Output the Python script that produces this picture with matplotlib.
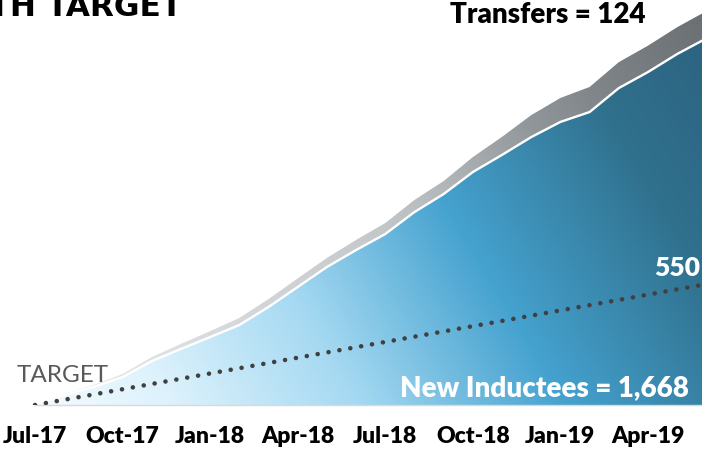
import numpy as np
import matplotlib.pyplot as plt
from matplotlib.colors import LinearSegmentedColormap
from matplotlib.patches import Polygon

# monthly cumulative totals, Jul-17 .. Jun-19
months = ['Jul-17', 'Aug-17', 'Sep-17', 'Oct-17', 'Nov-17', 'Dec-17',
          'Jan-18', 'Feb-18', 'Mar-18', 'Apr-18', 'May-18', 'Jun-18',
          'Jul-18', 'Aug-18', 'Sep-18', 'Oct-18', 'Nov-18', 'Dec-18',
          'Jan-19', 'Feb-19', 'Mar-19', 'Apr-19', 'May-19', 'Jun-19']
inductees = [0, 45, 82, 127, 200, 255, 309, 364, 446, 537, 628, 705,
             778, 878, 960, 1060, 1138, 1219, 1288, 1333, 1442, 1515, 1597, 1668]
transfers = [0, 5, 9, 14, 18, 23, 27, 32, 36, 39, 41, 46,
             50, 55, 59, 68, 82, 100, 109, 114, 118, 120, 122, 124]
target = [0, 550]
tick_labels = ['Jul-17', 'Oct-17', 'Jan-18', 'Apr-18',
               'Jul-18', 'Oct-18', 'Jan-19', 'Apr-19']

x = np.arange(len(months))
ind = np.array(inductees, dtype=float)
tot = ind + np.array(transfers)

fig = plt.figure(figsize=(7.02, 4.51), dpi=100)
ax = fig.add_axes([0, 46 / 451, 1, 405 / 451])
xmin, xmax = -35 / 29.19, 667 / 29.19
ymin, ymax = 0, 405 * 4.55
ax.set_xlim(xmin, xmax)
ax.set_ylim(ymin, ymax)

# diagonal gradient (light bottom-left -> dark top-right)
gx = np.linspace(xmin, xmax, 500)
gy = np.linspace(ymin, ymax, 300)
GX, GY = np.meshgrid(gx, gy)
m = (GX * 29.19 + 0.6 * GY / 4.55) / 900
m = np.clip(m, 0, 1)

blue_cmap = LinearSegmentedColormap.from_list('b', [
    (0.0, '#f4fbff'), (0.15, '#ddf2fc'), (0.36, '#a5d9f2'),
    (0.59, '#45a2cf'), (0.83, '#30718e'), (1.0, '#2c6380')])
gray_cmap = LinearSegmentedColormap.from_list('g', [
    (0.0, '#eceeef'), (0.16, '#dfe2e4'), (0.5, '#c4c8cb'),
    (0.6, '#b2b7ba'), (0.74, '#90969a'), (0.83, '#80868a'), (1.0, '#6a7074')])

gray_poly = Polygon(np.column_stack([np.r_[x, x[::-1]], np.r_[tot, ind[::-1]]]),
                    closed=True, facecolor='none', edgecolor='none')
blue_poly = Polygon(np.column_stack([np.r_[x, x[::-1]], np.r_[ind, np.zeros_like(ind)]]),
                    closed=True, facecolor='none', edgecolor='none')
ax.add_patch(gray_poly)
ax.add_patch(blue_poly)

im1 = ax.imshow(m, extent=(xmin, xmax, ymin, ymax), origin='lower',
                aspect='auto', cmap=gray_cmap, vmin=0, vmax=1, zorder=1)
im1.set_clip_path(gray_poly)
im2 = ax.imshow(m, extent=(xmin, xmax, ymin, ymax), origin='lower',
                aspect='auto', cmap=blue_cmap, vmin=0, vmax=1, zorder=1)
im2.set_clip_path(blue_poly)

ax.plot(x, ind, color='white', lw=1.7, zorder=2)

# target line
ax.plot([x[0], x[-1]], target, color='#404040', lw=3.3,
        linestyle=(0, (0.01, 2.4)), dash_capstyle='round', zorder=3)

for s in ['top', 'right', 'left']:
    ax.spines[s].set_visible(False)
ax.spines['bottom'].set_color('#d9d9d9')
ax.spines['bottom'].set_linewidth(1)
ax.spines['bottom'].set_bounds(x[0], xmax)
ax.set_yticks([])
ax.set_xticks([months.index(t) for t in tick_labels], tick_labels)
ax.tick_params(axis='x', length=0, pad=15)
for lab in ax.get_xticklabels():
    lab.set_fontfamily('Lato')
    lab.set_fontweight('heavy')
    lab.set_fontsize(16.5)

ax.text(1 - 13 / 702, 17 / 405, 'New Inductees = 1,668', transform=ax.transAxes,
        ha='right', va='center', color='white', fontsize=20, fontweight='heavy',
        family='Lato', zorder=4)
ax.text(1 - 2 / 702, 137 / 405, '550', transform=ax.transAxes,
        ha='right', va='center', color='white', fontsize=19, fontweight='heavy',
        family='Lato', zorder=4)
ax.text(17 / 702, 30 / 405, 'TARGET', transform=ax.transAxes,
        ha='left', va='center', color='#595959', fontsize=17.5,
        family='Lato', zorder=4)

fig.text(548 / 702, 1 - 15 / 451, 'Transfers = 124', ha='center', va='center',
         fontsize=20, fontweight='heavy', family='Lato', color='black')
fig.text(182 / 702, 1 - 15.5 / 451, 'GROWTH TARGET', ha='right', va='baseline',
         fontsize=22.5, fontweight='bold', family='DejaVu Sans', color='black')

fig.savefig('out.png', dpi=100)
